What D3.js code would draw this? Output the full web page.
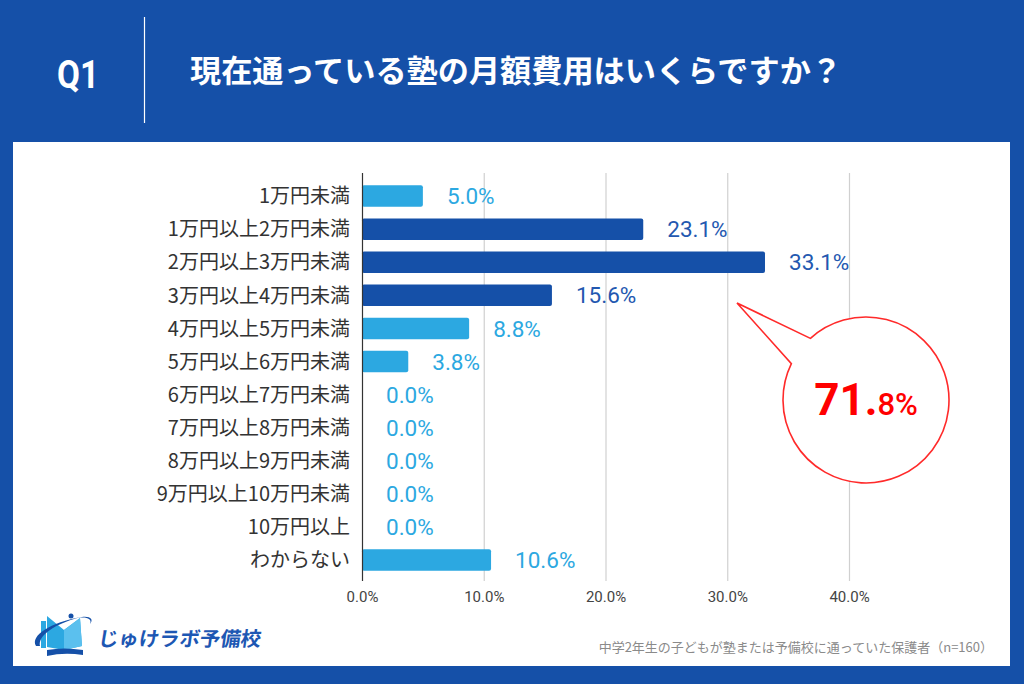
<!DOCTYPE html>
<html><head><meta charset="utf-8">
<script src="https://cdn.jsdelivr.net/npm/d3@7"></script>
<style>
html,body{margin:0;padding:0;background:#1550a8;}
svg{display:block;}
</style></head>
<body>
<svg id="chart" width="1024" height="684"></svg>
<script>
// ---- data ----
const categories = ["1万円未満","1万円以上2万円未満","2万円以上3万円未満","3万円以上4万円未満","4万円以上5万円未満","5万円以上6万円未満","6万円以上7万円未満","7万円以上8万円未満","8万円以上9万円未満","9万円以上10万円未満","10万円以上","わからない"];
const values = [5.0, 23.1, 33.1, 15.6, 8.8, 3.8, 0.0, 0.0, 0.0, 0.0, 0.0, 10.6];
const highlighted = ["1万円以上2万円未満","2万円以上3万円未満","3万円以上4万円未満"];
const tickValues = [0, 10, 20, 30, 40];
const titleQ = "Q1";
const titleText = "現在通っている塾の月額費用はいくらですか？";
const footnote = "中学2年生の子どもが塾または予備校に通っていた保護者（n=160）";
const brand = "じゅけラボ予備校";

const BLUE = "#1550a8", LIGHT = "#2ca8e1";
const JP = "'Noto Sans CJK JP','Noto Sans',sans-serif";
const NUM = "Roboto,'Noto Sans',sans-serif";

const svg = d3.select("#chart");
svg.append("rect").attr("width",1024).attr("height",684).attr("fill",BLUE);
svg.append("rect").attr("x",13).attr("y",142).attr("width",997).attr("height",524).attr("fill","#fff");

// header
svg.append("text").text(titleQ).attr("x",57).attr("y",88)
  .attr("font-family",NUM).attr("font-weight",700).attr("font-size",38)
  .attr("textLength",42).attr("lengthAdjust","spacingAndGlyphs").attr("fill","#fff");
svg.append("line").attr("x1",144.5).attr("x2",144.5).attr("y1",17).attr("y2",123)
  .attr("stroke","#fff").attr("stroke-width",1.2);
svg.append("text").text(titleText).attr("x",190).attr("y",82)
  .attr("font-family",JP).attr("font-weight",700).attr("font-size",31)
  .attr("textLength",652).attr("lengthAdjust","spacingAndGlyphs").attr("fill","#fff");

// scales
const x = d3.scaleLinear().domain([0,40]).range([362,849]);
const y = d3.scaleBand().domain(categories).range([179.5,576.6]).paddingInner(0.35).paddingOuter(0.175);

const gridTop = 173, gridBottom = 581;
// grid
svg.append("g").selectAll("line").data(tickValues.filter(t=>t>0)).join("line")
  .attr("x1",d=>x(d)+0.5).attr("x2",d=>x(d)+0.5).attr("y1",gridTop).attr("y2",gridBottom)
  .attr("stroke","#d0d0d0").attr("stroke-width",1.2);

// x axis
const xAxis = d3.axisBottom(x).tickValues(tickValues).tickSize(0).tickPadding(0)
  .tickFormat(d=>d3.format(".1f")(d)+"%");
const gx = svg.append("g").attr("transform",`translate(0,${gridBottom})`).call(xAxis);
gx.select(".domain").remove();
gx.selectAll("text").attr("font-family",NUM).attr("font-size",15).attr("fill","#444")
  .attr("dy",null).attr("y",21);

// bars
const data = categories.map((c,i)=>({c, v: values[i], hi: highlighted.includes(c)}));
svg.append("g").selectAll("rect").data(data.filter(d=>d.v>0)).join("rect")
  .attr("x",x(0)).attr("y",d=>y(d.c)).attr("height",y.bandwidth())
  .attr("width",d=>x(d.v)-x(0)).attr("rx",2)
  .attr("fill",d=>d.hi?BLUE:LIGHT);

// zero axis line
svg.append("line").attr("x1",x(0)+0.5).attr("x2",x(0)+0.5).attr("y1",gridTop).attr("y2",gridBottom)
  .attr("stroke","#333").attr("stroke-width",1.2);

// category labels
svg.append("g").selectAll("text").data(data).join("text")
  .attr("x",350).attr("y",d=>y(d.c)+y.bandwidth()/2).attr("dy","0.36em")
  .attr("text-anchor","end").attr("font-family",JP).attr("font-size",20).attr("fill","#333")
  .text(d=>d.c);

// value labels
svg.append("g").selectAll("text").data(data).join("text")
  .attr("x",d=>x(d.v)+24).attr("y",d=>y(d.c)+y.bandwidth()/2).attr("dy","0.36em")
  .attr("font-family",NUM).attr("font-size",22.5)
  .attr("fill",d=>d.hi?"#2358b0":LIGHT)
  .text(d=>d3.format(".1f")(d.v)+"%");

// callout
const total = d3.sum(data.filter(d=>d.hi), d=>d.v);
const cx=866, cy=400, r=83;
const ang1 = Math.atan2(339-cy,811-cx), ang2 = Math.atan2(364-cy,792-cx);
const p = d3.path();
p.moveTo(cx+r*Math.cos(ang1), cy+r*Math.sin(ang1));
p.arc(cx,cy,r,ang1,ang2+2*Math.PI,false);
p.lineTo(737,303);
p.closePath();
svg.append("path").attr("d",p.toString()).attr("fill","#fff").attr("stroke","#ff2a2a").attr("stroke-width",1.6);
const parts = d3.format(".1f")(total).split(".");
const ct = svg.append("text").attr("x",cx).attr("y",415).attr("text-anchor","middle")
  .attr("font-family",NUM).attr("font-weight",700).attr("fill","#ff0000");
ct.append("tspan").attr("font-size",44).text(parts[0]+".");
ct.append("tspan").attr("font-size",31).attr("font-weight",500).text(parts[1]+"%");

// footer
svg.append("text").text(footnote).attr("x",993).attr("y",652).attr("text-anchor","end")
  .attr("font-family",JP).attr("font-size",13).attr("fill","#8a8a8a");

// logo
const lg = svg.append("g");
lg.append("path").attr("d","M41,621 L46,621 L46,648 L41,648 Z").attr("fill",LIGHT);
lg.append("path").attr("d","M47,616 L64,630 L80,618 L82,646 L64,650 L47,647 Z").attr("fill",LIGHT);
lg.append("path").attr("d","M64,630 L80,618 L82,646 L64,650 Z").attr("fill","#5bc0ee");
lg.append("path").attr("d","M47,650 Q64,647 83,650 L83,655 Q64,652 47,656 Z").attr("fill",BLUE);
lg.append("path").attr("d","M36,646 C30,636 50,622 82,617 C90,616 94,619 90,624 C93,618 84,616 74,619 C52,626 38,636 40,646 Z").attr("fill",BLUE);
lg.append("circle").attr("cx",71).attr("cy",616).attr("r",2.5).attr("fill",BLUE);
lg.append("text").text(brand).attr("x",98).attr("y",646)
  .attr("font-family",JP).attr("font-weight",700).attr("font-size",20)
  .attr("textLength",163).attr("lengthAdjust","spacingAndGlyphs")
  .attr("fill","#1d57b3").attr("transform","skewX(-8) translate(90,0)");
</script>
</body></html>
